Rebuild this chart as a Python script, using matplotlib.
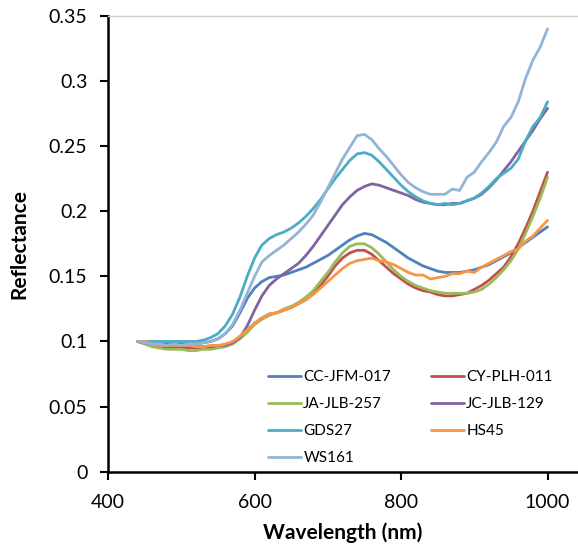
import matplotlib
matplotlib.use("Agg")
import matplotlib.pyplot as plt
import numpy as np

plt.rcParams['font.family'] = ['Lato', 'DejaVu Sans']

wavelength = list(range(440, 1001, 10))

cc_jfm_017 = [0.100, 0.099, 0.098, 0.098, 0.098, 0.098, 0.098, 0.098, 0.098, 0.099,
              0.100, 0.102, 0.106, 0.112, 0.122, 0.133, 0.141, 0.146, 0.149, 0.150,
              0.151, 0.153, 0.155, 0.157, 0.160, 0.163, 0.166, 0.170, 0.174, 0.178,
              0.181, 0.183, 0.182, 0.179, 0.176, 0.172, 0.168, 0.164, 0.161, 0.158,
              0.156, 0.154, 0.153, 0.153, 0.153, 0.154, 0.155, 0.157, 0.159, 0.162,
              0.165, 0.168, 0.172, 0.176, 0.180, 0.184, 0.188]
cy_plh_011 = [0.100, 0.099, 0.097, 0.096, 0.096, 0.095, 0.095, 0.095, 0.095, 0.095,
              0.096, 0.096, 0.097, 0.099, 0.103, 0.108, 0.114, 0.118, 0.121, 0.122,
              0.124, 0.126, 0.129, 0.132, 0.137, 0.143, 0.150, 0.158, 0.164, 0.168,
              0.170, 0.170, 0.167, 0.162, 0.157, 0.152, 0.148, 0.144, 0.141, 0.139,
              0.138, 0.136, 0.135, 0.135, 0.136, 0.137, 0.140, 0.143, 0.147, 0.152,
              0.157, 0.165, 0.175, 0.187, 0.200, 0.215, 0.230]
ja_jlb_257 = [0.100, 0.098, 0.096, 0.095, 0.094, 0.094, 0.094, 0.093, 0.093, 0.094,
              0.094, 0.095, 0.096, 0.098, 0.102, 0.107, 0.113, 0.117, 0.120, 0.122,
              0.125, 0.127, 0.130, 0.134, 0.139, 0.146, 0.153, 0.161, 0.168, 0.173,
              0.175, 0.175, 0.172, 0.167, 0.161, 0.155, 0.150, 0.146, 0.143, 0.141,
              0.139, 0.138, 0.137, 0.137, 0.137, 0.137, 0.138, 0.140, 0.144, 0.149,
              0.155, 0.162, 0.171, 0.183, 0.196, 0.210, 0.226]
jc_jlb_129 = [0.100, 0.099, 0.098, 0.097, 0.096, 0.096, 0.096, 0.096, 0.096, 0.096,
              0.096, 0.097, 0.097, 0.099, 0.103, 0.112, 0.124, 0.135, 0.143, 0.148,
              0.152, 0.156, 0.160, 0.166, 0.173, 0.181, 0.189, 0.197, 0.205, 0.211,
              0.216, 0.219, 0.221, 0.220, 0.218, 0.216, 0.214, 0.212, 0.209, 0.207,
              0.206, 0.205, 0.205, 0.206, 0.206, 0.208, 0.210, 0.213, 0.218, 0.224,
              0.231, 0.238, 0.246, 0.254, 0.262, 0.271, 0.279]
gds27 = [0.100, 0.100, 0.100, 0.100, 0.100, 0.100, 0.100, 0.100, 0.100, 0.101,
         0.103, 0.106, 0.112, 0.121, 0.134, 0.150, 0.164, 0.174, 0.179, 0.182,
         0.184, 0.187, 0.191, 0.196, 0.202, 0.209, 0.217, 0.225, 0.232, 0.239,
         0.244, 0.245, 0.243, 0.238, 0.232, 0.226, 0.220, 0.215, 0.211, 0.208,
         0.206, 0.205, 0.206, 0.205, 0.206, 0.208, 0.210, 0.214, 0.219, 0.225,
         0.229, 0.233, 0.240, 0.254, 0.265, 0.272, 0.284]
hs45 = [0.100, 0.100, 0.098, 0.097, 0.097, 0.097, 0.097, 0.097, 0.096, 0.096,
        0.097, 0.097, 0.098, 0.100, 0.104, 0.109, 0.114, 0.118, 0.121, 0.122,
        0.124, 0.126, 0.129, 0.132, 0.136, 0.141, 0.146, 0.151, 0.156, 0.160,
        0.162, 0.163, 0.164, 0.162, 0.161, 0.159, 0.156, 0.153, 0.151, 0.151,
        0.148, 0.149, 0.150, 0.152, 0.152, 0.154, 0.153, 0.157, 0.160, 0.163,
        0.166, 0.169, 0.171, 0.177, 0.181, 0.187, 0.193]
ws161 = [0.100, 0.099, 0.098, 0.098, 0.097, 0.098, 0.097, 0.098, 0.098, 0.099,
         0.100, 0.102, 0.106, 0.113, 0.124, 0.137, 0.150, 0.161, 0.166, 0.170,
         0.174, 0.179, 0.184, 0.190, 0.197, 0.207, 0.218, 0.229, 0.240, 0.249,
         0.258, 0.259, 0.255, 0.248, 0.242, 0.235, 0.228, 0.222, 0.218, 0.215,
         0.213, 0.213, 0.213, 0.217, 0.216, 0.226, 0.230, 0.238, 0.245, 0.253,
         0.265, 0.272, 0.284, 0.302, 0.316, 0.326, 0.340]

series_names = ["CC-JFM-017", "CY-PLH-011", "JA-JLB-257", "JC-JLB-129", "GDS27", "HS45", "WS161"]
series_values = [cc_jfm_017, cy_plh_011, ja_jlb_257, jc_jlb_129, gds27, hs45, ws161]
colors = ["#4F81BD", "#C0504D", "#9BBB59", "#8064A2", "#4BACC6", "#F79646", "#95B3D7"]

x_ticks = [400, 600, 800, 1000]
y_ticks = [0, 0.05, 0.1, 0.15, 0.2, 0.25, 0.3, 0.35]
y_tick_labels = ["0", "0.05", "0.1", "0.15", "0.2", "0.25", "0.3", "0.35"]

fig = plt.figure(figsize=(5.78, 5.46), dpi=100)
ax = fig.add_axes([0.187, 0.136, 0.813, 0.835])

handles = {}
for name, vals, c in zip(series_names, series_values, colors):
    h, = ax.plot(wavelength, vals, color=c, lw=2.0, label=name, solid_capstyle='round')
    handles[name] = h

ax.set_xlim(400, 1041.6)
ax.set_ylim(0, 0.35)
ax.set_xticks(x_ticks)
ax.set_yticks(y_ticks)
ax.set_yticklabels(y_tick_labels)
ax.tick_params(axis='both', direction='out', length=6, width=1.5, labelsize=14, colors='black')
ax.tick_params(axis='y', pad=9)
ax.tick_params(axis='x', pad=10)
ax.spines['right'].set_visible(False)
ax.spines['top'].set_color('#D0D0D0')
ax.spines['top'].set_linewidth(1.0)
ax.spines['left'].set_linewidth(1.8)
ax.spines['bottom'].set_linewidth(1.8)

ax.set_xlabel("Wavelength (nm)", fontsize=15, fontweight='bold', labelpad=8)
ax.set_ylabel("Reflectance", fontsize=15, fontweight='bold', labelpad=14)

order = ["CC-JFM-017", "JA-JLB-257", "GDS27", "WS161", "CY-PLH-011", "JC-JLB-129", "HS45"]
leg = ax.legend([handles[n] for n in order], order, ncol=2, loc='upper left',
                bbox_to_anchor=(0.34, 0.223), frameon=False, fontsize=11,
                handlelength=2.2, handletextpad=0.12, columnspacing=2.6,
                labelspacing=0.86, borderaxespad=0, borderpad=0)

fig.savefig("out.png", dpi=100)
